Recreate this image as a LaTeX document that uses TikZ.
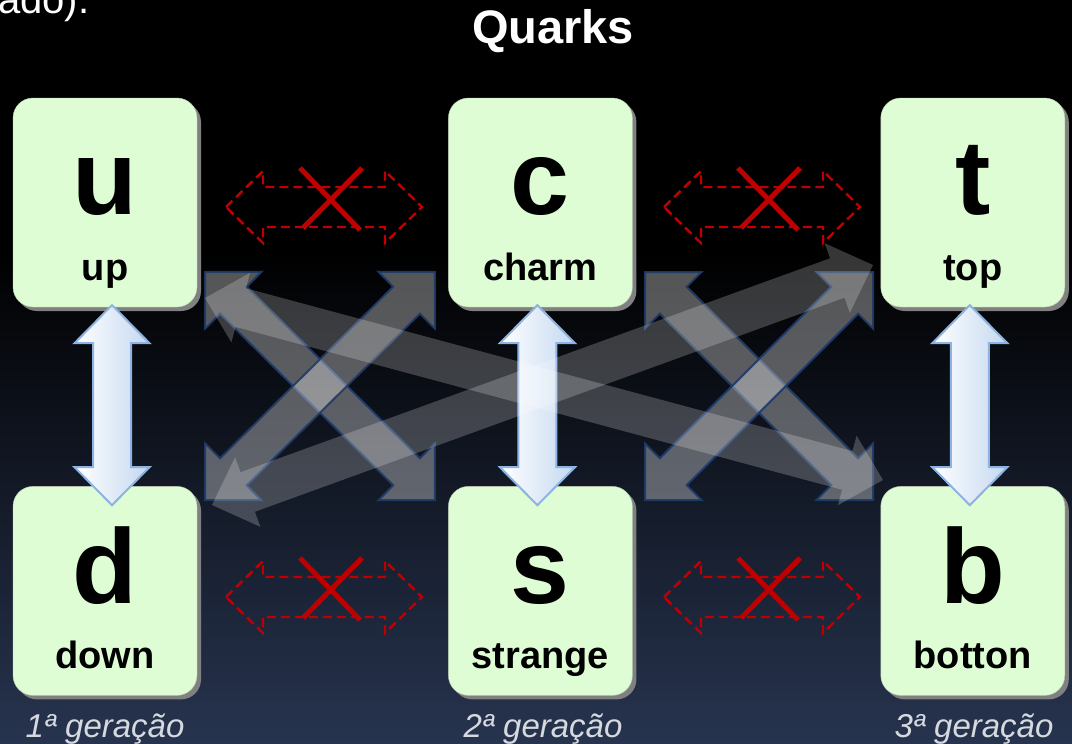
\documentclass[tikz,border=0pt]{standalone}
\usepackage{fontspec}
\setmainfont{Liberation Sans}
\usepackage{tikz}
\usetikzlibrary{calc,positioning,shadows}
\definecolor{QuarkGreen}{HTML}{DEFDD4}
\definecolor{QuarkEdge}{HTML}{B9C9B2}
\definecolor{NightBlue}{HTML}{27344F}
\definecolor{ArrowBlue}{HTML}{C4D8F0}
\definecolor{ArrowEdge}{HTML}{8DB3E2}
\definecolor{CrossEdge}{HTML}{1F3B6A}
\definecolor{NoRed}{HTML}{C00000}
\definecolor{GenGray}{HTML}{D6DAE0}

% block arrow with a head at both ends: style, from, to, shaft half width, head half width, head length
\newcommand{\blockarrow}[6]{%
  \path[#1] (#2)
    -- ($(#2)!#6!(#3)!#5!90:(#3)$) -- ($(#2)!#6!(#3)!#4!90:(#3)$)
    -- ($(#3)!#6!(#2)!#4!-90:(#2)$) -- ($(#3)!#6!(#2)!#5!-90:(#2)$)
    -- (#3)
    -- ($(#3)!#6!(#2)!#5!90:(#2)$) -- ($(#3)!#6!(#2)!#4!90:(#2)$)
    -- ($(#2)!#6!(#3)!#4!-90:(#3)$) -- ($(#2)!#6!(#3)!#5!-90:(#3)$)
    -- cycle;}

\begin{document}
\begin{tikzpicture}[x=1pt,y=-1pt]
\tikzstyle{quark}=[rectangle,rounded corners=20pt,draw=QuarkEdge,fill=QuarkGreen,minimum width=184pt,minimum height=209pt,inner sep=0pt,drop shadow={shadow xshift=4pt,shadow yshift=-4pt,fill=black!50,opacity=1}]
\tikzstyle{qsym}=[anchor=base,inner sep=0pt,font=\fontsize{106}{106}\selectfont\bfseries]
\tikzstyle{qname}=[anchor=base,inner sep=0pt,font=\fontsize{38}{38}\selectfont\bfseries]
\tikzstyle{qgen}=[anchor=base,inner sep=0pt,text=GenGray,font=\fontsize{33}{33}\selectfont\itshape]
\tikzstyle{same}=[draw=ArrowEdge,line width=2pt,left color=white,right color=ArrowBlue]
\tikzstyle{mixing}=[draw=CrossEdge,line width=2pt,fill=white,fill opacity=0.33,draw opacity=0.9]
\tikzstyle{weak}=[fill=white,fill opacity=0.21]
\tikzstyle{forbidden}=[draw=NoRed,line width=2.4pt,dash pattern=on 9pt off 5pt]
\tikzstyle{nocross}=[draw=NoRed,line width=5pt]
\useasboundingbox (0,0) rectangle (1072,744);
\clip (0,0) rectangle (1072,744);
% background
\fill[black] (0,0) rectangle (1072,252);
\shade[top color=black,bottom color=NightBlue] (0,250) rectangle (1072,744);
\node[anchor=base west,inner sep=0pt,text=white,font=\fontsize{40}{40}\selectfont] (cut) at (-2,13) {ado).};
\node[anchor=base,inner sep=0pt,text=white,font=\fontsize{47}{47}\selectfont\bfseries] (title) at (553,43) {Quarks};
% quark boxes
\node[quark] (u) at (105,202.5) {};
\node[quark,right=251pt of u] (c) {};
\node[quark,right=248pt of c] (t) {};
\node[quark,below=179pt of u] (d) {};
\node[quark,below=179pt of c] (s) {};
\node[quark,below=179pt of t] (b) {};
\node[qsym] (u-sym) at ($(u.north)+(0,117)$) {u};
\node[qname] (u-name) at ($(u.north)+(0,183)$) {up};
\node[qsym] (c-sym) at ($(c.north)+(0,117)$) {c};
\node[qname] (c-name) at ($(c.north)+(0,183)$) {charm};
\node[qsym] (t-sym) at ($(t.north)+(0,117)$) {t};
\node[qname] (t-name) at ($(t.north)+(0,183)$) {top};
\node[qsym] (d-sym) at ($(d.north)+(0,117)$) {d};
\node[qname] (d-name) at ($(d.north)+(0,182)$) {down};
\node[qsym] (s-sym) at ($(s.north)+(0,117)$) {s};
\node[qname] (s-name) at ($(s.north)+(0,182)$) {strange};
\node[qsym] (b-sym) at ($(b.north)+(0,117)$) {b};
\node[qname] (b-name) at ($(b.north)+(0,182)$) {botton};
\node[qgen] (gen1) at (105,737) {1ª geração};
\node[qgen] (gen2) at (543,737) {2ª geração};
\node[qgen] (gen3) at (974,737) {3ª geração};
% up-down pairs
\coordinate (ud-top) at ($(u.south)+(7,-2)$);
\coordinate (ud-bot) at ($(d.north)+(7,19)$);
\coordinate (cs-top) at ($(c.south)+(-3,-2)$);
\coordinate (cs-bot) at ($(s.north)+(-3,19)$);
\coordinate (tb-top) at ($(t.south)+(-3,-2)$);
\coordinate (tb-bot) at ($(b.north)+(-3,19)$);
\blockarrow{same}{ud-top}{ud-bot}{19pt}{37.5pt}{38pt}
\blockarrow{same}{cs-top}{cs-bot}{19pt}{37.5pt}{38pt}
\blockarrow{same}{tb-top}{tb-bot}{19pt}{37.5pt}{38pt}
% mixing between neighbouring generations
\coordinate (mx1a) at (205,272);
\coordinate (mx1b) at (435,500);
\coordinate (mx1c) at (435,272);
\coordinate (mx1d) at (205,500);
\coordinate (mx2a) at (645,272);
\coordinate (mx2b) at (873,500);
\coordinate (mx2c) at (873,272);
\coordinate (mx2d) at (645,500);
\blockarrow{mixing}{mx1a}{mx1b}{19pt}{40pt}{40pt}
\blockarrow{mixing}{mx1c}{mx1d}{19pt}{40pt}{40pt}
\blockarrow{mixing}{mx2a}{mx2b}{19pt}{40pt}{40pt}
\blockarrow{mixing}{mx2c}{mx2d}{19pt}{40pt}{40pt}
% 1st <-> 3rd generation
\coordinate (ub-a) at (205,298);
\coordinate (ub-b) at (883,480);
\coordinate (dt-a) at (212,505);
\coordinate (dt-b) at (873,265);
\blockarrow{weak}{ub-a}{ub-b}{20pt}{36pt}{37pt}
\blockarrow{weak}{dt-a}{dt-b}{21pt}{37pt}{38pt}
% forbidden
\coordinate (no1a) at (226,207);
\coordinate (no1b) at (422,207);
\coordinate (no2a) at (664,207);
\coordinate (no2b) at (860,207);
\coordinate (no3a) at (226,597);
\coordinate (no3b) at (422,597);
\coordinate (no4a) at (664,597);
\coordinate (no4b) at (860,597);
\blockarrow{forbidden}{no1a}{no1b}{20pt}{36pt}{37pt}
\blockarrow{forbidden}{no2a}{no2b}{20pt}{36pt}{37pt}
\blockarrow{forbidden}{no3a}{no3b}{20pt}{36pt}{37pt}
\blockarrow{forbidden}{no4a}{no4b}{20pt}{36pt}{37pt}
\draw[nocross] ($(no1a)!0.5!(no1b)+(-24,-39)$) -- ++(60,62);
\draw[nocross] ($(no1a)!0.5!(no1b)+(38,-39)$) -- ++(-59,60);
\draw[nocross] ($(no2a)!0.5!(no2b)+(-24,-39)$) -- ++(60,62);
\draw[nocross] ($(no2a)!0.5!(no2b)+(38,-39)$) -- ++(-59,60);
\draw[nocross] ($(no3a)!0.5!(no3b)+(-24,-39)$) -- ++(60,62);
\draw[nocross] ($(no3a)!0.5!(no3b)+(38,-39)$) -- ++(-59,60);
\draw[nocross] ($(no4a)!0.5!(no4b)+(-24,-39)$) -- ++(60,62);
\draw[nocross] ($(no4a)!0.5!(no4b)+(38,-39)$) -- ++(-59,60);
\end{tikzpicture}
\end{document}
